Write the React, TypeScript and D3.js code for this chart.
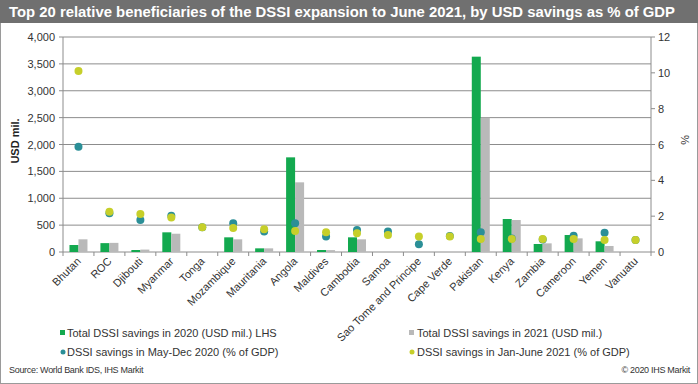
import React from "react";
import * as d3 from "d3";

// DATA
const countries = [
  "Bhutan", "ROC", "Djibouti", "Myanmar", "Tonga", "Mozambique", "Mauritania",
  "Angola", "Maldives", "Cambodia", "Samoa", "Sao Tome and Principe",
  "Cape Verde", "Pakistan", "Kenya", "Zambia", "Cameroon", "Yemen", "Vanuatu",
];
const savings2020 = [130, 165, 37, 366, 0, 273, 68, 1761, 37, 273, 0, 0, 0, 3634, 614, 149, 316, 199, 0];
const savings2021 = [236, 170, 45, 340, 0, 236, 68, 1296, 35, 236, 0, 0, 0, 2499, 595, 161, 254, 112, 0];
const pctMayDec2020 = [5.88, 2.16, 1.79, 2.03, 1.38, 1.6, 1.14, 1.6, 0.86, 1.23, 1.14, 0.43, 0.9, 1.1, 0.75, 0.7, 0.91, 1.08, 0.67];
const pctJanJun2021 = [10.1, 2.25, 2.12, 1.92, 1.38, 1.34, 1.27, 1.17, 1.1, 1.04, 0.95, 0.86, 0.86, 0.73, 0.73, 0.73, 0.73, 0.67, 0.67];
const leftTicks = [0, 500, 1000, 1500, 2000, 2500, 3000, 3500, 4000];
const rightTicks = [0, 2, 4, 6, 8, 10, 12];

const GREEN = "#13a94f";
const GREY = "#b9b9b9";
const TEAL = "#2b8f97";
const LIME = "#c6cf2a";
const FONT = "Arial, 'Liberation Sans', sans-serif";

export default function App() {
  const W = 698;
  const H = 384;
  const left = 63;
  const right = 651;
  const top = 37;
  const bottom = 252;

  const x0 = d3.scaleBand<string>().domain(countries).range([left, right]);
  const bw = x0.bandwidth();
  const x1 = d3.scaleBand<string>().domain(["2020", "2021"]).range([bw / 2 - 9, bw / 2 + 9]);
  const yL = d3.scaleLinear().domain([0, 4000]).range([bottom, top]);
  const yR = d3.scaleLinear().domain([0, 12]).range([bottom, top]);
  const fmt = d3.format(",");

  return (
    <div style={{ position: "fixed", left: 0, top: 0 }}>
      <svg width={W} height={H} style={{ display: "block", fontFamily: FONT }}>
        <rect x={0.5} y={0.5} width={W - 1} height={H - 1} fill="#fff" stroke="#9a9a9a" />
        <rect x={0} y={0} width={W} height={23} fill="#707070" />
        <text x={9} y={17} fill="#fff" fontSize={14.5} fontWeight="bold" textLength={666} lengthAdjust="spacingAndGlyphs">
          Top 20 relative beneficiaries of the DSSI expansion to June 2021, by USD savings as % of GDP
        </text>

        {/* GRID + LEFT AXIS */}
        {leftTicks.map((t) => (
          <g key={t}>
            <line x1={left} x2={right} y1={yL(t)} y2={yL(t)} stroke="#8c8c8c" strokeWidth={1} />
            <line x1={left - 4} x2={left} y1={yL(t)} y2={yL(t)} stroke="#8c8c8c" />
            <text x={55} y={yL(t) + 4} textAnchor="end" fontSize={11} fill="#333">
              {fmt(t)}
            </text>
          </g>
        ))}
        <line x1={left} x2={left} y1={top} y2={bottom} stroke="#8c8c8c" />

        {/* RIGHT AXIS */}
        <line x1={right} x2={right} y1={top} y2={bottom} stroke="#8c8c8c" />
        {rightTicks.map((t) => (
          <g key={t}>
            <line x1={right} x2={right + 4} y1={yR(t)} y2={yR(t)} stroke="#8c8c8c" />
            <text x={658} y={yR(t) + 4} fontSize={11} fill="#333">
              {t}
            </text>
          </g>
        ))}

        {/* X AXIS TICKS */}
        {countries.map((c) => (
          <line key={c} x1={x0(c)!} x2={x0(c)!} y1={bottom} y2={bottom + 4} stroke="#8c8c8c" />
        ))}
        <line x1={right} x2={right} y1={bottom} y2={bottom + 4} stroke="#8c8c8c" />

        {/* BARS */}
        {countries.map((c, i) => (
          <g key={c}>
            <rect x={x0(c)! + x1("2020")!} y={yL(savings2020[i])} width={x1.bandwidth()} height={bottom - yL(savings2020[i])} fill={GREEN} />
            <rect x={x0(c)! + x1("2021")!} y={yL(savings2021[i])} width={x1.bandwidth()} height={bottom - yL(savings2021[i])} fill={GREY} />
          </g>
        ))}

        {/* DOTS */}
        {countries.map((c, i) => (
          <circle key={c} cx={x0(c)! + bw / 2} cy={yR(pctMayDec2020[i])} r={4} fill={TEAL} />
        ))}
        {countries.map((c, i) => (
          <circle key={c} cx={x0(c)! + bw / 2} cy={yR(pctJanJun2021[i])} r={4} fill={LIME} />
        ))}

        {/* CATEGORY LABELS */}
        {countries.map((c) => (
          <text
            key={c}
            transform={`translate(${x0(c)! + bw / 2 + 3},${bottom + 10}) rotate(-45)`}
            textAnchor="end"
            fontSize={11}
            fill="#333"
          >
            {c}
          </text>
        ))}

        <text transform="translate(19,141) rotate(-90)" textAnchor="middle" fontSize={11} fontWeight="bold" fill="#222">
          USD mil.
        </text>
        <text transform="translate(681,140) rotate(90)" textAnchor="middle" fontSize={11} fill="#333">
          %
        </text>

        {/* LEGEND */}
        <rect x={60} y={330} width={5} height={5} fill={GREEN} />
        <text x={67} y={337} fontSize={11} fill="#333">Total DSSI savings in 2020 (USD mil.) LHS</text>
        <rect x={409} y={330} width={5} height={5} fill={GREY} />
        <text x={417} y={337} fontSize={11} fill="#333">Total DSSI savings in 2021 (USD mil.)</text>
        <circle cx={63} cy={352} r={2.5} fill={TEAL} />
        <text x={67} y={356} fontSize={11} fill="#333">DSSI savings in May-Dec 2020 (% of GDP)</text>
        <circle cx={412} cy={352} r={2.5} fill={LIME} />
        <text x={417} y={356} fontSize={11} fill="#333">DSSI savings in Jan-June 2021 (% of GDP)</text>

        <text x={9} y={373} fontSize={9} fill="#333" letterSpacing={-0.3}>Source: World Bank IDS, IHS Markit</text>
        <text x={690} y={373} fontSize={9} fill="#333" textAnchor="end" letterSpacing={-0.3}>© 2020 IHS Markit</text>
      </svg>
    </div>
  );
}
